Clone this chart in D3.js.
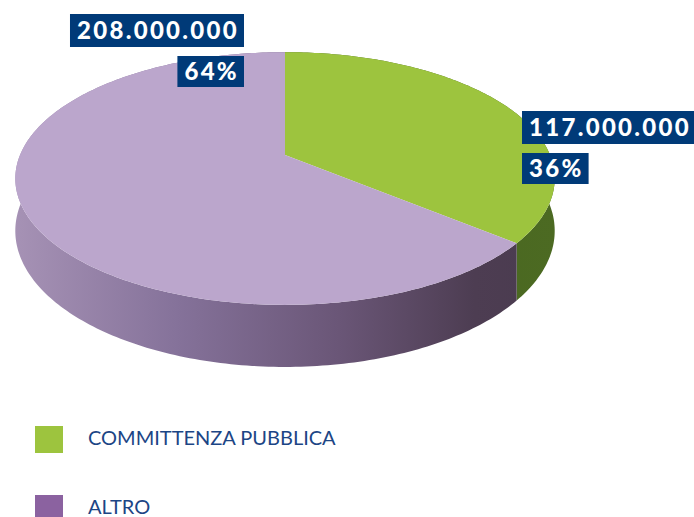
<!DOCTYPE html>
<html lang="it">
<head>
<meta charset="UTF-8">
<title>Committenza</title>
<script src="https://cdn.jsdelivr.net/npm/d3@7"></script>
<style>
  body { margin: 0; background: #ffffff; }
  .lbl { font-family: Lato, "Open Sans", sans-serif; font-weight: 900; fill: #ffffff; }
  .legend text { font-family: Lato, "Open Sans", sans-serif; font-weight: 400; fill: #1c4585; }
</style>
</head>
<body>
<svg id="chart" width="694" height="517"></svg>
<script>
// data
const categories = ["COMMITTENZA PUBBLICA", "ALTRO"];
const values = [117000000, 208000000];
const topColors = ["#9dc43e", "#bba6cc"];
const legendColors = ["#9dc43e", "#8b62a0"];

const svg = d3.select("#chart");

// perspective disc: centre, radii, foreshortening, thickness
const cx = 285, cy = 155;
const A = 265, B = 122, k = 0.186, D = 50.5;

function proj(theta, depth) {
    const u = Math.sin(theta), v = -Math.cos(theta);
    const w = 1 - k * v;
    return [cx + A * u / w, cy + (B * v + depth * D) / w];
}

const pie = d3.pie().sort(null).value(d => d)(values);
const color = d3.scaleOrdinal().domain(categories).range(topColors);
const line = d3.line();
const total = d3.sum(values);

function arcPoints(a0, a1, depth) {
    const n = Math.max(8, Math.ceil((a1 - a0) * 60));
    return d3.range(n + 1).map(i => proj(a0 + (a1 - a0) * i / n, depth));
}

// gradients for the side walls
const defs = svg.append("defs");
const sideStops = [
    [["0%", "#3f5a1c"], ["100%", "#4c6a22"]],
    [["0%", "#a692b5"], ["30%", "#85729a"], ["60%", "#6a5677"], ["85%", "#4d3d52"], ["100%", "#4a3b4f"]]
];
sideStops.forEach((stops, i) => {
    const g = defs.append("linearGradient")
        .attr("id", "side" + i)
        .attr("gradientUnits", "userSpaceOnUse")
        .attr("x1", cx - A * 1.02).attr("x2", cx + A * 1.02)
        .attr("y1", 0).attr("y2", 0);
    stops.forEach(s => g.append("stop").attr("offset", s[0]).attr("stop-color", s[1]));
});

const pieG = svg.append("g");

// side walls (the back ones are hidden by the tops drawn later)
pieG.selectAll("path.side")
    .data(pie)
    .enter().append("path")
    .attr("class", "side")
    .attr("d", d => {
        const top = arcPoints(d.startAngle, d.endAngle, 0);
        const bot = arcPoints(d.startAngle, d.endAngle, 1).reverse();
        return line(top.concat(bot)) + "Z";
    })
    .attr("fill", (d, i) => `url(#side${i})`);

// top faces
pieG.selectAll("path.top")
    .data(pie)
    .enter().append("path")
    .attr("class", "top")
    .attr("d", d => line([[cx, cy]].concat(arcPoints(d.startAngle, d.endAngle, 0))) + "Z")
    .attr("fill", (d, i) => color(categories[i]));

// value labels
const itLocale = d3.formatLocale({decimal: ",", thousands: ".", grouping: [3], currency: ["", "€"]});
const fmt = itLocale.format(",d");

const labelPos = [
    {x: 522, y: 111, align: "start"},
    {x: 244, y: 14, align: "end"}
];

pie.forEach((d, i) => {
    const p = labelPos[i];
    const rows = [fmt(values[i]), Math.round(values[i] / total * 100) + "%"];
    const heights = [33, 31];
    const gaps = [0, 42];
    rows.forEach((txt, r) => {
        const g = svg.append("g");
        const t = g.append("text")
            .attr("class", "lbl")
            .attr("font-size", 24)
            .attr("letter-spacing", 2.3)
            .text(txt);
        const tw = t.node().getComputedTextLength();
        const bw = tw + 12;
        const bx = p.align === "start" ? p.x : p.x - bw;
        const by = p.y + gaps[r];
        g.insert("rect", "text")
            .attr("x", bx).attr("y", by)
            .attr("width", bw).attr("height", heights[r])
            .attr("fill", "#003a78");
        t.attr("x", bx + 7).attr("y", by + heights[r] / 2 + 8.5);
    });
});

// legend
const legend = svg.append("g").attr("class", "legend");
const ly = d3.scalePoint().domain(categories).range([426, 495]);
const item = legend.selectAll("g")
    .data(categories)
    .enter().append("g")
    .attr("transform", d => `translate(35,${ly(d)})`);
item.append("rect")
    .attr("width", 28).attr("height", 27)
    .attr("fill", (d, i) => legendColors[i]);
item.append("text")
    .attr("x", 53).attr("y", 19)
    .attr("font-size", 20)
    .text(d => d);
</script>
</body>
</html>
